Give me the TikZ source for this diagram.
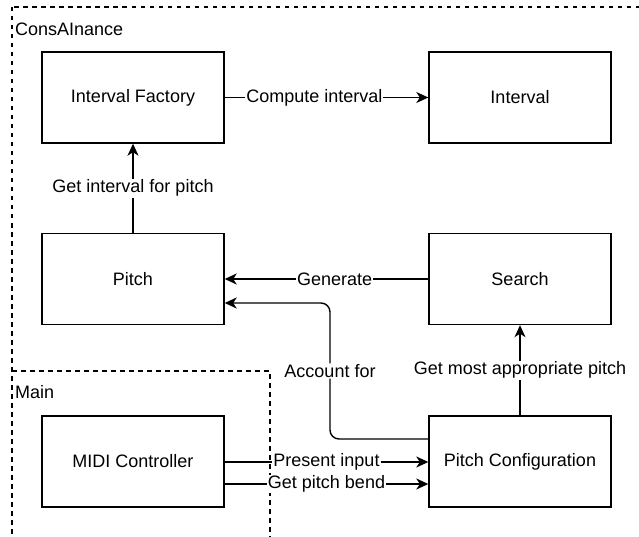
\documentclass[tikz,border=0pt]{standalone}
\usepackage{fontspec}
\setmainfont{Liberation Sans}
\usetikzlibrary{arrows.meta}
\begin{document}
\begin{tikzpicture}[x=1pt,y=-1pt,
  box/.style={draw, line width=1.4pt, minimum width=182pt, minimum height=91pt, inner sep=0pt, font=\fontsize{18}{21}\selectfont},
  conn/.style={line width=1.4pt, -{Stealth[length=12pt,width=11pt,inset=3.5pt]}},
  lbl/.style={fill=white, inner sep=1pt, font=\fontsize{18}{21}\selectfont},
  grp/.style={line width=1.4pt, dash pattern=on 4.5pt off 4.5pt},
  grplbl/.style={anchor=west, inner sep=0pt, font=\fontsize{18}{21}\selectfont},
]
\useasboundingbox (0,0) rectangle (639,537);
\begin{scope}
  \clip (0,0) rectangle (639,537);
  \draw[grp] (12,7) rectangle (680,580);
  \draw[grp] (12,371) -- (270,371) -- (270,580);
\end{scope}
\node[grplbl] (lcons) at (15,29) {ConsAInance};
\node[grplbl] (lmain) at (15,392) {Main};

\node[box] (if) at (133,97.5) {Interval Factory};
\node[box] (iv) at (520,97.5) {Interval};
\node[box] (pi) at (133,279) {Pitch};
\node[box] (se) at (520,279) {Search};
\node[box] (mc) at (133,461.5) {MIDI Controller};
\node[box] (pc) at (520,461.5) {Pitch Configuration};

\draw[conn] (if) -- node[lbl, pos=0.44] {Compute interval} (iv);
\draw[conn] (pi) -- node[lbl] {Get interval for pitch} (if);
\draw[conn] (se) -- node[lbl, pos=0.46] {Generate} (pi);
\draw[conn] (pc) -- node[lbl] {Get most appropriate pitch} (se);
\coordinate (a1) at (330,439);
\coordinate (a2) at (330,303);
\draw[conn, rounded corners=9pt] (pc.west |- a1) -- (a1) -- node[lbl] {Account for} (a2) -- (pi.east |- a2);
\draw[conn] (mc.east |- 0,462) -- node[lbl] {Present input} (pc.west |- 0,462);
\draw[conn] (mc.east |- 0,484) -- node[lbl] {Get pitch bend} (pc.west |- 0,484);
\end{tikzpicture}
\end{document}
